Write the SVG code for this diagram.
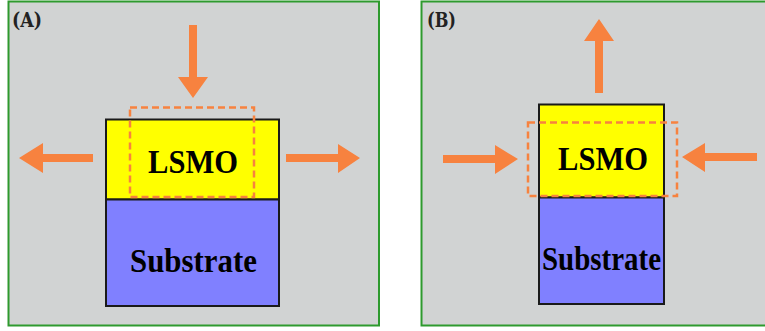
<svg xmlns="http://www.w3.org/2000/svg" width="765" height="331" viewBox="0 0 765 331">
<style>
.panel{fill:#d1d3d3;stroke:#2e9a2e;stroke-width:2}
.lsmo{fill:#ffff00;stroke:#1a1a1a;stroke-width:2}
.sub{fill:#8080ff;stroke:#1a1a1a;stroke-width:2}
.dash{fill:none;stroke:#f7823f;stroke-width:2.5;stroke-dasharray:7,4}
.arr{fill:#f7823f}
.t{font-family:"Liberation Serif",serif;font-weight:bold;font-size:33px;fill:#000;text-anchor:middle}
.lbl{font-family:"DejaVu Serif","Liberation Serif",serif;font-weight:bold;font-size:20px;fill:#222}
</style>
<rect width="765" height="331" fill="#ffffff"/>
<g id="panelA">
<rect class="panel" x="8.5" y="1.5" width="370.5" height="324"/>
<text class="lbl" x="12" y="27" textLength="30" lengthAdjust="spacingAndGlyphs">(A)</text>
</g>
<g id="panelB">
<rect class="panel" x="421.5" y="1.5" width="346" height="324"/>
<text class="lbl" x="427" y="27" textLength="29" lengthAdjust="spacingAndGlyphs">(B)</text>
</g>
<g id="lsmoA">
<rect class="lsmo" x="106" y="119.5" width="173" height="80"/>
<text class="t" x="193" y="173" textLength="90" lengthAdjust="spacingAndGlyphs">LSMO</text>
</g>
<g id="substrateA">
<rect class="sub" x="106" y="199.5" width="173" height="106.5"/>
<text class="t" x="193.5" y="272" textLength="127" lengthAdjust="spacingAndGlyphs">Substrate</text>
</g>
<g id="lsmoB">
<rect class="lsmo" x="539" y="104.5" width="125" height="93"/>
<text class="t" x="603" y="170" textLength="90" lengthAdjust="spacingAndGlyphs">LSMO</text>
</g>
<g id="substrateB">
<rect class="sub" x="539" y="197.5" width="125" height="106.5"/>
<text class="t" x="601.5" y="270" textLength="119" lengthAdjust="spacingAndGlyphs">Substrate</text>
</g>
<g id="connectors">
<rect class="dash" x="130" y="107.5" width="124" height="89.5"/>
<rect class="dash" x="528" y="122.5" width="149" height="73.5"/>
<polygon class="arr" points="189,25 197,25 197,77 208,77 193,98 178,77 189,77"/>
<polygon class="arr" points="93,154 93,162 43,162 43,173 19,158 43,143 43,154"/>
<polygon class="arr" points="286,154 286,162 338,162 338,173 360,158 338,144 338,154"/>
<polygon class="arr" points="595,93 603,93 603,41 614,41 599,19 584,41 595,41"/>
<polygon class="arr" points="443,155 443,163 495,163 495,174 518,159 495,145 495,155"/>
<polygon class="arr" points="757,153 757,161 705,161 705,172 682,157 705,143 705,153"/>
</g>
</svg>
